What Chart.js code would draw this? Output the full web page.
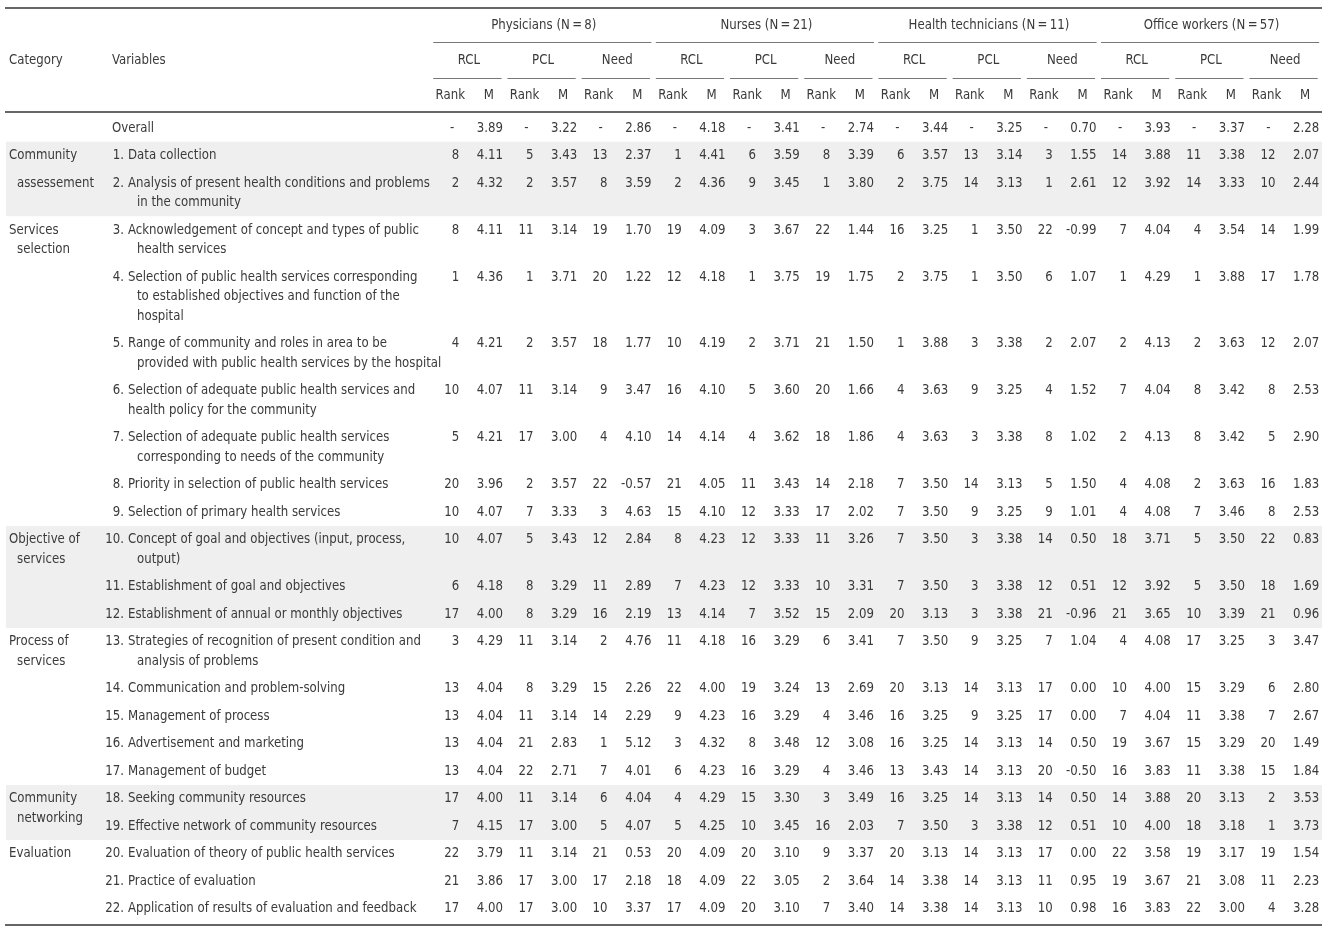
<!DOCTYPE html>
<html>
<head>
<meta charset="utf-8">
<script src="https://cdn.jsdelivr.net/npm/chart.js@4.4.0/dist/chart.umd.min.js"></script>
<style>
body { margin: 0; background: #fff; }
#wrap { width: 1327px; height: 931px; }
</style>
</head>
<body>
<div id="wrap"><canvas id="myChart"></canvas></div>
<script>
// header labels
const groups = ["Physicians (N\u2009=\u20098)", "Nurses (N\u2009=\u200921)", "Health technicians (N\u2009=\u200911)", "Office workers (N\u2009=\u200957)"];
const measures = ["RCL", "PCL", "Need"];
const subHeads = ["Rank", "M"];

// rows (variables), wrapped as in the paper
const variables = [
  ["Overall"],
  ["1. Data collection"],
  ["2. Analysis of present health conditions and problems", "in the community"],
  ["3. Acknowledgement of concept and types of public", "health services"],
  ["4. Selection of public health services corresponding", "to established objectives and function of the", "hospital"],
  ["5. Range of community and roles in area to be", "provided with public health services by the hospital"],
  ["6. Selection of adequate public health services and", "health policy for the community"],
  ["7. Selection of adequate public health services", "corresponding to needs of the community"],
  ["8. Priority in selection of public health services"],
  ["9. Selection of primary health services"],
  ["10. Concept of goal and objectives (input, process,", "output)"],
  ["11. Establishment of goal and objectives"],
  ["12. Establishment of annual or monthly objectives"],
  ["13. Strategies of recognition of present condition and", "analysis of problems"],
  ["14. Communication and problem-solving"],
  ["15. Management of process"],
  ["16. Advertisement and marketing"],
  ["17. Management of budget"],
  ["18. Seeking community resources"],
  ["19. Effective network of community resources"],
  ["20. Evaluation of theory of public health services"],
  ["21. Practice of evaluation"],
  ["22. Application of results of evaluation and feedback"]
];
const flushWrapRows = [6];

const categoryNames = [["Community", "assessement"], ["Services", "selection"], ["Objective of", "services"], ["Process of", "services"], ["Community", "networking"], ["Evaluation"]];
const categoryRows = [[1, 2], [3, 3], [10, 10], [13, 13], [18, 18], [20]];
const shadedCategories = [0, 2, 4];

// Physicians
const physRclRank = [null,8,2,8,1,4,10,5,20,10,10,6,17,3,13,13,13,13,17,7,22,21,17];
const physRclM = [3.89,4.11,4.32,4.11,4.36,4.21,4.07,4.21,3.96,4.07,4.07,4.18,4.00,4.29,4.04,4.04,4.04,4.04,4.00,4.15,3.79,3.86,4.00];
const physPclRank = [null,5,2,11,1,2,11,17,2,7,5,8,8,11,8,11,21,22,11,17,11,17,17];
const physPclM = [3.22,3.43,3.57,3.14,3.71,3.57,3.14,3.00,3.57,3.33,3.43,3.29,3.29,3.14,3.29,3.14,2.83,2.71,3.14,3.00,3.14,3.00,3.00];
const physNeedRank = [null,13,8,19,20,18,9,4,22,3,12,11,16,2,15,14,1,7,6,5,21,17,10];
const physNeedM = [2.86,2.37,3.59,1.70,1.22,1.77,3.47,4.10,-0.57,4.63,2.84,2.89,2.19,4.76,2.26,2.29,5.12,4.01,4.04,4.07,0.53,2.18,3.37];
// Nurses
const nurRclRank = [null,1,2,19,12,10,16,14,21,15,8,7,13,11,22,9,3,6,4,5,20,18,17];
const nurRclM = [4.18,4.41,4.36,4.09,4.18,4.19,4.10,4.14,4.05,4.10,4.23,4.23,4.14,4.18,4.00,4.23,4.32,4.23,4.29,4.25,4.09,4.09,4.09];
const nurPclRank = [null,6,9,3,1,2,5,4,11,12,12,12,7,16,19,16,8,16,15,10,20,22,20];
const nurPclM = [3.41,3.59,3.45,3.67,3.75,3.71,3.60,3.62,3.43,3.33,3.33,3.33,3.52,3.29,3.24,3.29,3.48,3.29,3.30,3.45,3.10,3.05,3.10];
const nurNeedRank = [null,8,1,22,19,21,20,18,14,17,11,10,15,6,13,4,12,4,3,16,9,2,7];
const nurNeedM = [2.74,3.39,3.80,1.44,1.75,1.50,1.66,1.86,2.18,2.02,3.26,3.31,2.09,3.41,2.69,3.46,3.08,3.46,3.49,2.03,3.37,3.64,3.40];
// Health technicians
const techRclRank = [null,6,2,16,2,1,4,4,7,7,7,7,20,7,20,16,16,13,16,7,20,14,14];
const techRclM = [3.44,3.57,3.75,3.25,3.75,3.88,3.63,3.63,3.50,3.50,3.50,3.50,3.13,3.50,3.13,3.25,3.25,3.43,3.25,3.50,3.13,3.38,3.38];
const techPclRank = [null,13,14,1,1,3,9,3,14,9,3,3,3,9,14,9,14,14,14,3,14,14,14];
const techPclM = [3.25,3.14,3.13,3.50,3.50,3.38,3.25,3.38,3.13,3.25,3.38,3.38,3.38,3.25,3.13,3.25,3.13,3.13,3.13,3.38,3.13,3.13,3.13];
const techNeedRank = [null,3,1,22,6,2,4,8,5,9,14,12,21,7,17,17,14,20,14,12,17,11,10];
const techNeedM = [0.70,1.55,2.61,-0.99,1.07,2.07,1.52,1.02,1.50,1.01,0.50,0.51,-0.96,1.04,0.00,0.00,0.50,-0.50,0.50,0.51,0.00,0.95,0.98];
// Office workers
const offRclRank = [null,14,12,7,1,2,7,2,4,4,18,12,21,4,10,7,19,16,14,10,22,19,16];
const offRclM = [3.93,3.88,3.92,4.04,4.29,4.13,4.04,4.13,4.08,4.08,3.71,3.92,3.65,4.08,4.00,4.04,3.67,3.83,3.88,4.00,3.58,3.67,3.83];
const offPclRank = [null,11,14,4,1,2,8,8,2,7,5,5,10,17,15,11,15,11,20,18,19,21,22];
const offPclM = [3.37,3.38,3.33,3.54,3.88,3.63,3.42,3.42,3.63,3.46,3.50,3.50,3.39,3.25,3.29,3.38,3.29,3.38,3.13,3.18,3.17,3.08,3.00];
const offNeedRank = [null,12,10,14,17,12,8,5,16,8,22,18,21,3,6,7,20,15,2,1,19,11,4];
const offNeedM = [2.28,2.07,2.44,1.99,1.78,2.07,2.53,2.90,1.83,2.53,0.83,1.69,0.96,3.47,2.80,2.67,1.49,1.84,3.53,3.73,1.54,2.23,3.28];

const columns = [
  [physRclRank, physRclM], [physPclRank, physPclM], [physNeedRank, physNeedM],
  [nurRclRank, nurRclM], [nurPclRank, nurPclM], [nurNeedRank, nurNeedM],
  [techRclRank, techRclM], [techPclRank, techPclM], [techNeedRank, techNeedM],
  [offRclRank, offRclM], [offPclRank, offPclM], [offNeedRank, offNeedM]
];

// layout: x in column units (one Rank+M pair = 1), y in row units
const COL_PX = 74.2, X0 = 427.3;
const ROW_PX = 27.5, Y0 = 128;
const LINE = 0.71;
const FONT = '14px "DejaVu Sans Condensed", sans-serif';
const SQUEEZE = 0.935; // the paper uses a narrow face
const INK = '#3a3a3a';

let rowY = [];
let acc = 0;
variables.forEach(v => { rowY.push(acc); acc += 1 + LINE * (v.length - 1); });
const rowBottom = i => rowY[i] + 0.5 + LINE * (variables[i].length - 1);

let datasets = [];
columns.forEach((col, j) => {
  datasets.push({ data: rowY.map(y => ({ x: j + 0.43, y: y })), texts: col[0].map(r => r === null ? "-" : String(r)), pointRadius: 0 });
  datasets.push({ data: rowY.map(y => ({ x: j + 1.02, y: y })), texts: col[1].map(m => m.toFixed(2)), pointRadius: 0 });
});

function text(ctx, t, x, y, align) {
  ctx.save();
  ctx.textAlign = align;
  ctx.translate(x, y);
  ctx.scale(SQUEEZE, 1);
  ctx.fillText(t, 0, 0);
  ctx.restore();
}

const tablePlugin = {
  id: 'tableText',
  beforeDatasetsDraw(chart) {
    const ctx = chart.ctx, xs = chart.scales.x, ys = chart.scales.y;
    ctx.save();
    ctx.fillStyle = '#efefef';
    shadedCategories.forEach(c => {
      const rows = categoryRows[c];
      const top = ys.getPixelForValue(rowY[rows[0]] - 0.5);
      const last = c + 1 < categoryRows.length ? categoryRows[c + 1][0] - 1 : variables.length - 1;
      const bot = ys.getPixelForValue(rowBottom(last));
      ctx.fillRect(6, top, 1316, bot - top);
    });
    // rules
    const hline = (v, x1, x2, w, color) => {
      const y = Math.round(ys.getPixelForValue(v)) + (w % 2 ? 0.5 : 0);
      ctx.strokeStyle = color; ctx.lineWidth = w;
      ctx.beginPath(); ctx.moveTo(x1, y); ctx.lineTo(x2, y); ctx.stroke();
    };
    hline(-4.364, 5, 1322, 2, '#666');
    hline(-0.582, 5, 1322, 2, '#666');
    hline(rowBottom(variables.length - 1) + 0.1, 5, 1322, 2, '#666');
    groups.forEach((g, k) => {
      hline(-3.127, xs.getPixelForValue(3 * k + 0.08), xs.getPixelForValue(3 * k + 3.02), 1, '#777');
    });
    for (let j = 0; j < 12; j++) {
      hline(-1.818, xs.getPixelForValue(j + 0.08), xs.getPixelForValue(j + 1.0), 1, '#777');
    }
    ctx.restore();
  },
  afterDatasetsDraw(chart) {
    const ctx = chart.ctx, xs = chart.scales.x, ys = chart.scales.y;
    ctx.save();
    ctx.font = FONT;
    ctx.fillStyle = INK;
    ctx.textBaseline = 'middle';
    // cells
    chart.data.datasets.forEach((ds, i) => {
      const meta = chart.getDatasetMeta(i);
      meta.data.forEach((pt, r) => {
        const t = ds.texts[r];
        if (t === "-") text(ctx, t, pt.x - 7, pt.y, 'center');
        else text(ctx, t, pt.x, pt.y, 'right');
      });
    });
    // header
    groups.forEach((g, k) => text(ctx, g, xs.getPixelForValue(3 * k + 1.57), ys.getPixelForValue(-3.72), 'center'));
    for (let j = 0; j < 12; j++) {
      text(ctx, measures[j % 3], xs.getPixelForValue(j + 0.56), ys.getPixelForValue(-2.45), 'center');
      text(ctx, subHeads[0], xs.getPixelForValue(j + 0.31), ys.getPixelForValue(-1.18), 'center');
      text(ctx, subHeads[1], xs.getPixelForValue(j + 0.83), ys.getPixelForValue(-1.18), 'center');
    }
    text(ctx, "Category", 9, ys.getPixelForValue(-2.45), 'left');
    text(ctx, "Variables", 112, ys.getPixelForValue(-2.45), 'left');
    // variables
    variables.forEach((lines, r) => {
      lines.forEach((line, k) => {
        const y = ys.getPixelForValue(rowY[r] + k * LINE);
        const m = line.match(/^(\d+\.)\s(.*)$/);
        if (k === 0 && m) {
          text(ctx, m[1], 124, y, 'right');
          text(ctx, m[2], 128, y, 'left');
        } else {
          text(ctx, line, k === 0 ? 112 : (flushWrapRows.includes(r) ? 128 : 137), y, 'left');
        }
      });
    });
    // categories
    categoryNames.forEach((names, c) => {
      names.forEach((name, k) => {
        const row = categoryRows[c][k];
        const sub = categoryRows[c].slice(0, k).filter(x => x === row).length;
        text(ctx, name, k === 0 ? 9 : 17, ys.getPixelForValue(rowY[row] + sub * LINE), 'left');
      });
    });
    ctx.restore();
  }
};

new Chart(document.getElementById('myChart'), {
  type: 'scatter',
  data: { datasets: datasets },
  options: {
    responsive: true,
    maintainAspectRatio: false,
    animation: false,
    layout: { padding: 0 },
    plugins: { legend: { display: false }, tooltip: { enabled: false } },
    scales: {
      x: { type: 'linear', display: false, min: -X0 / COL_PX, max: (1327 - X0) / COL_PX },
      y: { type: 'linear', display: false, reverse: true, min: -Y0 / ROW_PX, max: (931 - Y0) / ROW_PX }
    }
  },
  plugins: [tablePlugin]
});
</script>
</body>
</html>
